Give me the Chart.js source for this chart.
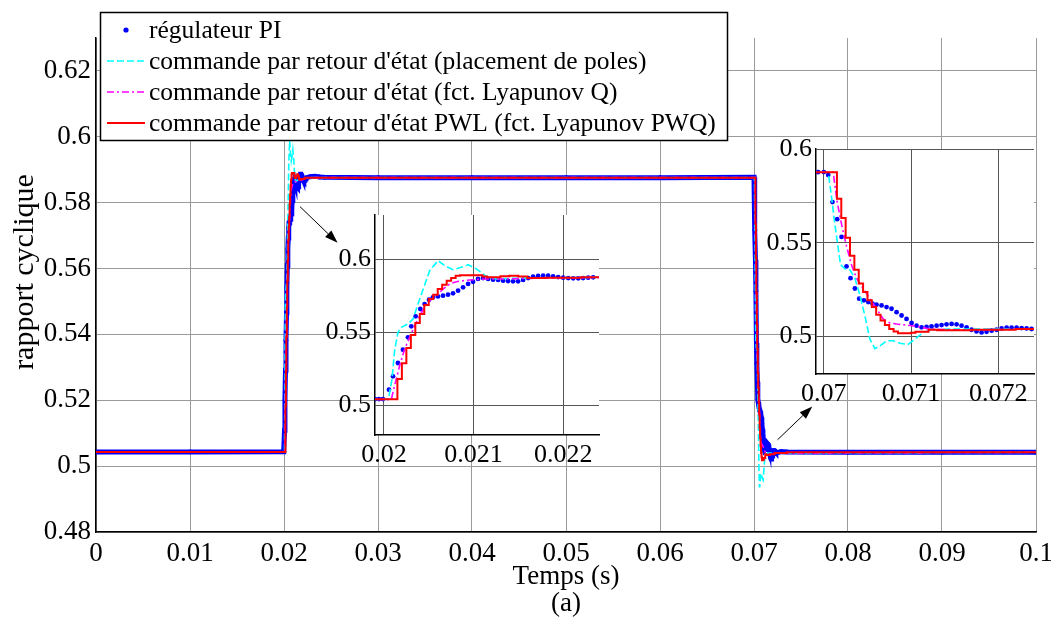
<!DOCTYPE html>
<html>
<head>
<meta charset="utf-8">
<title>rapport cyclique</title>
<script src="https://cdn.jsdelivr.net/npm/chart.js@4.4.0/dist/chart.umd.min.js"></script>
<style>
  html, body { margin: 0; padding: 0; background: #fff; }
  #wrap { position: relative; width: 1051px; height: 624px; overflow: hidden; }
  #wrap canvas { position: absolute; }
  #main { left: 0; top: 0; }
  #zoomA { left: 325px; top: 205px; }
  #zoomB { left: 760px; top: 125px; }
</style>
</head>
<body>
<div id="wrap">
  <canvas id="main" width="1051" height="624"></canvas>
  <canvas id="zoomA" width="290" height="270"></canvas>
  <canvas id="zoomB" width="291" height="285"></canvas>
</div>
<script>
// series as [time (s), duty ratio] pairs
var piSeries = [
    [0, 0.5043], [0.01, 0.5043], [0.0199, 0.5044], [0.019944, 0.5045], [0.019989, 0.5045],
    [0.020056, 0.5109], [0.020101, 0.5200], [0.020156, 0.5291], [0.020212, 0.5382], [0.020268, 0.5466],
    [0.020305, 0.5541], [0.020354, 0.5609], [0.020406, 0.5659], [0.020454, 0.5693], [0.020503, 0.5723],
    [0.020547, 0.5739], [0.020603, 0.5745], [0.020659, 0.5750], [0.020715, 0.5757], [0.020771, 0.5766],
    [0.020827, 0.5784], [0.020883, 0.5807], [0.020939, 0.5830], [0.020994, 0.5845], [0.021050, 0.5864],
    [0.021106, 0.5870], [0.021162, 0.5864], [0.021218, 0.5859], [0.021274, 0.5857], [0.021330, 0.5852],
    [0.021385, 0.5850], [0.021441, 0.5848], [0.021497, 0.5848], [0.021553, 0.5857], [0.021609, 0.5870],
    [0.021665, 0.5880], [0.021721, 0.5884], [0.021777, 0.5886], [0.021832, 0.5886], [0.021888, 0.5882],
    [0.021944, 0.5877], [0.022000, 0.5873], [0.022056, 0.5870], [0.022112, 0.5868], [0.022168, 0.5868],
    [0.022223, 0.5870], [0.022279, 0.5873], [0.022335, 0.5875], [0.0228, 0.5879], [0.0233, 0.5880],
    [0.0238, 0.5878], [0.0243, 0.5877], [0.03, 0.5876], [0.04, 0.5876], [0.05, 0.5876], [0.06, 0.5876],
    [0.069935, 0.5877], [0.07, 0.5877], [0.07005, 0.5861], [0.070099, 0.5717], [0.070153, 0.5626],
    [0.070203, 0.5531], [0.070260, 0.5374], [0.070306, 0.5311], [0.070356, 0.5256], [0.070405, 0.5202],
    [0.070459, 0.5193], [0.070509, 0.5184], [0.070558, 0.5175], [0.070604, 0.5170], [0.070662, 0.5166],
    [0.070719, 0.5157], [0.070776, 0.5148], [0.070834, 0.5130], [0.070891, 0.5112], [0.070948, 0.5094],
    [0.071006, 0.5072], [0.071063, 0.5058], [0.071120, 0.5049], [0.071178, 0.5051], [0.071235, 0.5054],
    [0.071293, 0.5058], [0.071350, 0.5061], [0.071407, 0.5065], [0.071465, 0.5067], [0.071522, 0.5065],
    [0.071579, 0.5058], [0.071637, 0.5049], [0.071694, 0.5036], [0.071751, 0.5027], [0.071809, 0.5022],
    [0.071866, 0.5025], [0.071924, 0.5031], [0.071981, 0.5036], [0.072038, 0.5043], [0.072096, 0.5047],
    [0.072153, 0.5047], [0.072210, 0.5047], [0.072268, 0.5045], [0.072325, 0.5043], [0.072382, 0.5040],
    [0.0729, 0.5044], [0.0735, 0.5043], [0.08, 0.5042], [0.09, 0.5042], [0.1, 0.5042]
];
var poleSeries = [
    [0, 0.5043], [0.02005, 0.5043], [0.02009, 0.5182], [0.02012, 0.5380], [0.020156, 0.5500],
    [0.020194, 0.5534], [0.020268, 0.5557], [0.020324, 0.5591], [0.020399, 0.5727], [0.020510, 0.5920],
    [0.020603, 0.5989], [0.020678, 0.5955], [0.020771, 0.5927], [0.020864, 0.5943], [0.020939, 0.5961],
    [0.021032, 0.5932], [0.021143, 0.5882], [0.021255, 0.5864], [0.021441, 0.5868], [0.021628, 0.5870],
    [0.0225, 0.5876], [0.07005, 0.5876], [0.070088, 0.5744], [0.070126, 0.5599], [0.070164, 0.5473],
    [0.070191, 0.5383], [0.070241, 0.5361], [0.070298, 0.5356], [0.070356, 0.5311], [0.070413, 0.5220],
    [0.070470, 0.5112], [0.070528, 0.4986], [0.070585, 0.4935], [0.070642, 0.4949], [0.070719, 0.4977],
    [0.070795, 0.4977], [0.070872, 0.4964], [0.070967, 0.4958], [0.071044, 0.4986], [0.071140, 0.5022],
    [0.071254, 0.5036], [0.071446, 0.5040], [0.071828, 0.5040], [0.1, 0.5042]
];
var lyapSeries = [
    [0, 0.5043], [0.020082, 0.5043], [0.020119, 0.5136], [0.020175, 0.5273], [0.020231, 0.5386],
    [0.020287, 0.5466], [0.020343, 0.5545], [0.020399, 0.5614], [0.020454, 0.5670], [0.020510, 0.5716],
    [0.020585, 0.5750], [0.020659, 0.5795], [0.020734, 0.5830], [0.020808, 0.5845], [0.020883, 0.5852],
    [0.020994, 0.5859], [0.021143, 0.5864], [0.021330, 0.5864], [0.021628, 0.5868], [0.022, 0.5870],
    [0.0225, 0.5876], [0.070107, 0.5876], [0.070153, 0.5717], [0.070203, 0.5599], [0.070260, 0.5482],
    [0.070317, 0.5383], [0.070375, 0.5311], [0.070451, 0.5256], [0.070528, 0.5202], [0.070604, 0.5148],
    [0.070681, 0.5094], [0.070757, 0.5072], [0.070834, 0.5067], [0.070948, 0.5061], [0.071063, 0.5054],
    [0.071216, 0.5040], [0.071446, 0.5036], [0.071828, 0.5036], [0.072402, 0.5040], [0.1, 0.5042]
];
// sampled control (zero-order hold): value holds until the next time
var pwlSeries = [
    [0, 0.5043], [0.02015, 0.5182], [0.0202, 0.5289], [0.02025, 0.5393], [0.0203, 0.5482],
    [0.02035, 0.5564], [0.0204, 0.5625], [0.02045, 0.5686], [0.0205, 0.5727], [0.02055, 0.5757],
    [0.0206, 0.5795], [0.02065, 0.5825], [0.0207, 0.5852], [0.02075, 0.5870], [0.0208, 0.5886],
    [0.02085, 0.5890], [0.0211, 0.5880], [0.02115, 0.5875], [0.0213, 0.5882], [0.0214, 0.5886],
    [0.0215, 0.5880], [0.0216, 0.5870], [0.0218, 0.5872], [0.0222, 0.5876], [0.07015, 0.5735],
    [0.0702, 0.5632], [0.07025, 0.5527], [0.0703, 0.5431], [0.07035, 0.5356], [0.0704, 0.5283],
    [0.07045, 0.5238], [0.0705, 0.5193], [0.07055, 0.5157], [0.0706, 0.5116], [0.07065, 0.5085],
    [0.0707, 0.5061], [0.07075, 0.5040], [0.0708, 0.5027], [0.07085, 0.5018], [0.071, 0.5020],
    [0.07105, 0.5025], [0.0712, 0.5036], [0.0713, 0.5034], [0.0717, 0.5036], [0.0722, 0.5040],
    [0.0735, 0.5042], [0.1, 0.5042]
];

var seriesLabels = [
    'régulateur PI',
    "commande par retour d'état (placement de poles)",
    "commande par retour d'état (fct. Lyapunov Q)",
    "commande par retour d'état PWL (fct. Lyapunov PWQ)"
];

var xTicks = [0, 0.01, 0.02, 0.03, 0.04, 0.05, 0.06, 0.07, 0.08, 0.09, 0.1];
var xTickLabels = ['0', '0.01', '0.02', '0.03', '0.04', '0.05', '0.06', '0.07', '0.08', '0.09', '0.1'];
var yTicks = [0.48, 0.5, 0.52, 0.54, 0.56, 0.58, 0.6, 0.62];
var yTickLabels = ['0.48', '0.5', '0.52', '0.54', '0.56', '0.58', '0.6', '0.62'];

var zoomATicksX = [0.02, 0.021, 0.022];
var zoomATickLabelsX = ['0.02', '0.021', '0.022'];
var zoomBTicksX = [0.07, 0.071, 0.072];
var zoomBTickLabelsX = ['0.07', '0.071', '0.072'];
var zoomTicksY = [0.5, 0.55, 0.6];
var zoomTickLabelsY = ['0.5', '0.55', '0.6'];

// arrows pointing at the zoomed regions: [x0, y0, x1, y1] in data units
var arrows = [
    [0.0217, 0.5788, 0.0257, 0.5678],
    [0.0725, 0.5080, 0.0762, 0.5181]
];

var SERIF = "'Liberation Serif', 'Times New Roman', serif";

function toXY(series) {
    return series.map(function (p) { return {x: p[0], y: p[1]}; });
}

function makeDatasets(inset) {
    return [{
        label: seriesLabels[0],
        data: toXY(piSeries),
        showLine: !inset,
        borderColor: '#0000ff',
        backgroundColor: '#0000ff',
        borderWidth: 5,
        pointRadius: inset ? 2.4 : 2.4,
        pointBorderWidth: 0,
        pointBackgroundColor: '#0000ff',
        order: 4
    }, {
        label: seriesLabels[1],
        data: toXY(poleSeries),
        borderColor: '#00ffff',
        borderDash: [7, 3],
        borderWidth: 1.6,
        pointRadius: 0,
        order: 3
    }, {
        label: seriesLabels[2],
        data: toXY(lyapSeries),
        borderColor: '#ff00ff',
        borderDash: [7, 3, 2, 3],
        borderWidth: 1.6,
        pointRadius: 0,
        order: 2
    }, {
        label: seriesLabels[3],
        data: toXY(pwlSeries),
        borderColor: '#ff0000',
        borderWidth: 2,
        stepped: true,
        pointRadius: 0,
        order: 1
    }];
}

function makeAxis(min, max, ticks, labels, gridColor, size, pad) {
    return {
        type: 'linear',
        min: min,
        max: max,
        afterBuildTicks: function (s) {
            s.ticks = ticks.map(function (v) { return {value: v}; });
        },
        ticks: {
            autoSkip: false,
            maxRotation: 0,
            padding: pad,
            color: '#000',
            font: {family: SERIF, size: size},
            callback: function (v, i) { return labels[i]; }
        },
        grid: {color: gridColor, lineWidth: 1, drawTicks: false},
        border: {color: '#000', width: 1.5}
    };
}

// white background behind the plotting area of the insets
var whiteArea = {
    id: 'whiteArea',
    beforeDraw: function (chart) {
        var a = chart.chartArea;
        var ctx = chart.ctx;
        ctx.save();
        ctx.fillStyle = '#fff';
        ctx.fillRect(a.left, a.top, a.right - a.left, a.bottom - a.top);
        ctx.restore();
    }
};

var arrowPlugin = {
    id: 'arrowPlugin',
    afterDatasetsDraw: function (chart) {
        var ctx = chart.ctx;
        var sx = chart.scales.x, sy = chart.scales.y;
        ctx.save();
        ctx.strokeStyle = '#000';
        ctx.fillStyle = '#000';
        ctx.lineWidth = 1;
        arrows.forEach(function (a) {
            var x0 = sx.getPixelForValue(a[0]), y0 = sy.getPixelForValue(a[1]);
            var x1 = sx.getPixelForValue(a[2]), y1 = sy.getPixelForValue(a[3]);
            var ang = Math.atan2(y1 - y0, x1 - x0);
            var len = 13, half = 4.5;
            var bx = x1 - len * Math.cos(ang), by = y1 - len * Math.sin(ang);
            ctx.beginPath();
            ctx.moveTo(x0, y0);
            ctx.lineTo(bx, by);
            ctx.stroke();
            ctx.beginPath();
            ctx.moveTo(x1, y1);
            ctx.lineTo(bx + half * Math.sin(ang), by - half * Math.cos(ang));
            ctx.lineTo(bx - half * Math.sin(ang), by + half * Math.cos(ang));
            ctx.closePath();
            ctx.fill();
        });
        ctx.restore();
    }
};

// y axis title, placed where the original figure has it
var yTitle = {
    id: 'yTitle',
    afterDraw: function (chart) {
        var ctx = chart.ctx;
        ctx.save();
        ctx.translate(25, 272);
        ctx.rotate(-Math.PI / 2);
        ctx.font = '30px ' + SERIF;
        ctx.fillStyle = '#000';
        ctx.textAlign = 'center';
        ctx.textBaseline = 'middle';
        ctx.fillText('rapport cyclique', 0, 0);
        ctx.restore();
    }
};

// MATLAB-like legend box over the top-left of the axes
var boxLegend = {
    id: 'boxLegend',
    afterDraw: function (chart) {
        var ctx = chart.ctx;
        var left = 100, top = 12, w = 627, h = 128;
        ctx.save();
        ctx.fillStyle = '#fff';
        ctx.fillRect(left, top, w, h);
        ctx.strokeStyle = '#000';
        ctx.lineWidth = 1.5;
        ctx.strokeRect(left + 0.5, top + 0.5, w, h);
        ctx.font = '25.5px ' + SERIF;
        ctx.textBaseline = 'middle';
        ctx.textAlign = 'left';
        chart.data.datasets.forEach(function (ds, i) {
            var y = 30 + i * 31;
            if (i === 0) {
                ctx.fillStyle = ds.backgroundColor;
                ctx.beginPath();
                ctx.arc(126, y, 2.6, 0, Math.PI * 2);
                ctx.fill();
            } else {
                ctx.strokeStyle = ds.borderColor;
                ctx.lineWidth = ds.borderWidth;
                ctx.setLineDash(ds.borderDash || []);
                ctx.beginPath();
                ctx.moveTo(107, y);
                ctx.lineTo(145, y);
                ctx.stroke();
                ctx.setLineDash([]);
            }
            ctx.fillStyle = '#000';
            ctx.fillText(ds.label, 149, y + 1);
        });
        ctx.restore();
    }
};

var mainX = makeAxis(0, 0.1, xTicks, xTickLabels, '#9a9a9a', 27, 6);
mainX.title = {
    display: true,
    text: ['Temps (s)', '(a)'],
    color: '#000',
    font: {family: SERIF, size: 27, lineHeight: 1},
    padding: {top: 0, bottom: 7}
};
mainX.afterFit = function (s) { s.height = 92; s.paddingLeft = 0; s.paddingRight = 0; };

var mainY = makeAxis(0.48, 0.63, yTicks, yTickLabels, '#9a9a9a', 27, 5);
mainY.afterFit = function (s) { s.width = 96; s.paddingTop = 0; s.paddingBottom = 0; };

new Chart(document.getElementById('main'), {
    type: 'line',
    data: {datasets: makeDatasets(false)},
    options: {
        responsive: false,
        animation: false,
        layout: {padding: {left: 0, top: 38, right: 15, bottom: 0}},
        plugins: {legend: {display: false}, tooltip: {enabled: false}},
        scales: {x: mainX, y: mainY}
    },
    plugins: [arrowPlugin, yTitle, boxLegend]
});

function makeInset(id, xMin, xMax, xT, xL, yMin, yMax, pad, yWidth, xHeight) {
    var sx = makeAxis(xMin, xMax, xT, xL, '#555', 26, 5);
    sx.afterFit = function (s) { s.height = xHeight; s.paddingLeft = 0; s.paddingRight = 0; };
    var sy = makeAxis(yMin, yMax, zoomTicksY, zoomTickLabelsY, '#555', 26, 4);
    sy.afterFit = function (s) { s.width = yWidth; s.paddingTop = 0; s.paddingBottom = 0; };
    return new Chart(document.getElementById(id), {
        type: 'line',
        data: {datasets: makeDatasets(true)},
        options: {
            responsive: false,
            animation: false,
            layout: {padding: pad},
            plugins: {legend: {display: false}, tooltip: {enabled: false}},
            scales: {x: sx, y: sy}
        },
        plugins: [whiteArea]
    });
}

makeInset('zoomA', 0.0199, 0.0224, zoomATicksX, zoomATickLabelsX, 0.48, 0.63,
    {left: 0, top: 10, right: 16, bottom: 0}, 50, 40);
makeInset('zoomB', 0.06991, 0.07241, zoomBTicksX, zoomBTickLabelsX, 0.48, 0.6,
    {left: 0, top: 24, right: 17, bottom: 0}, 56, 36);
</script>
</body>
</html>
